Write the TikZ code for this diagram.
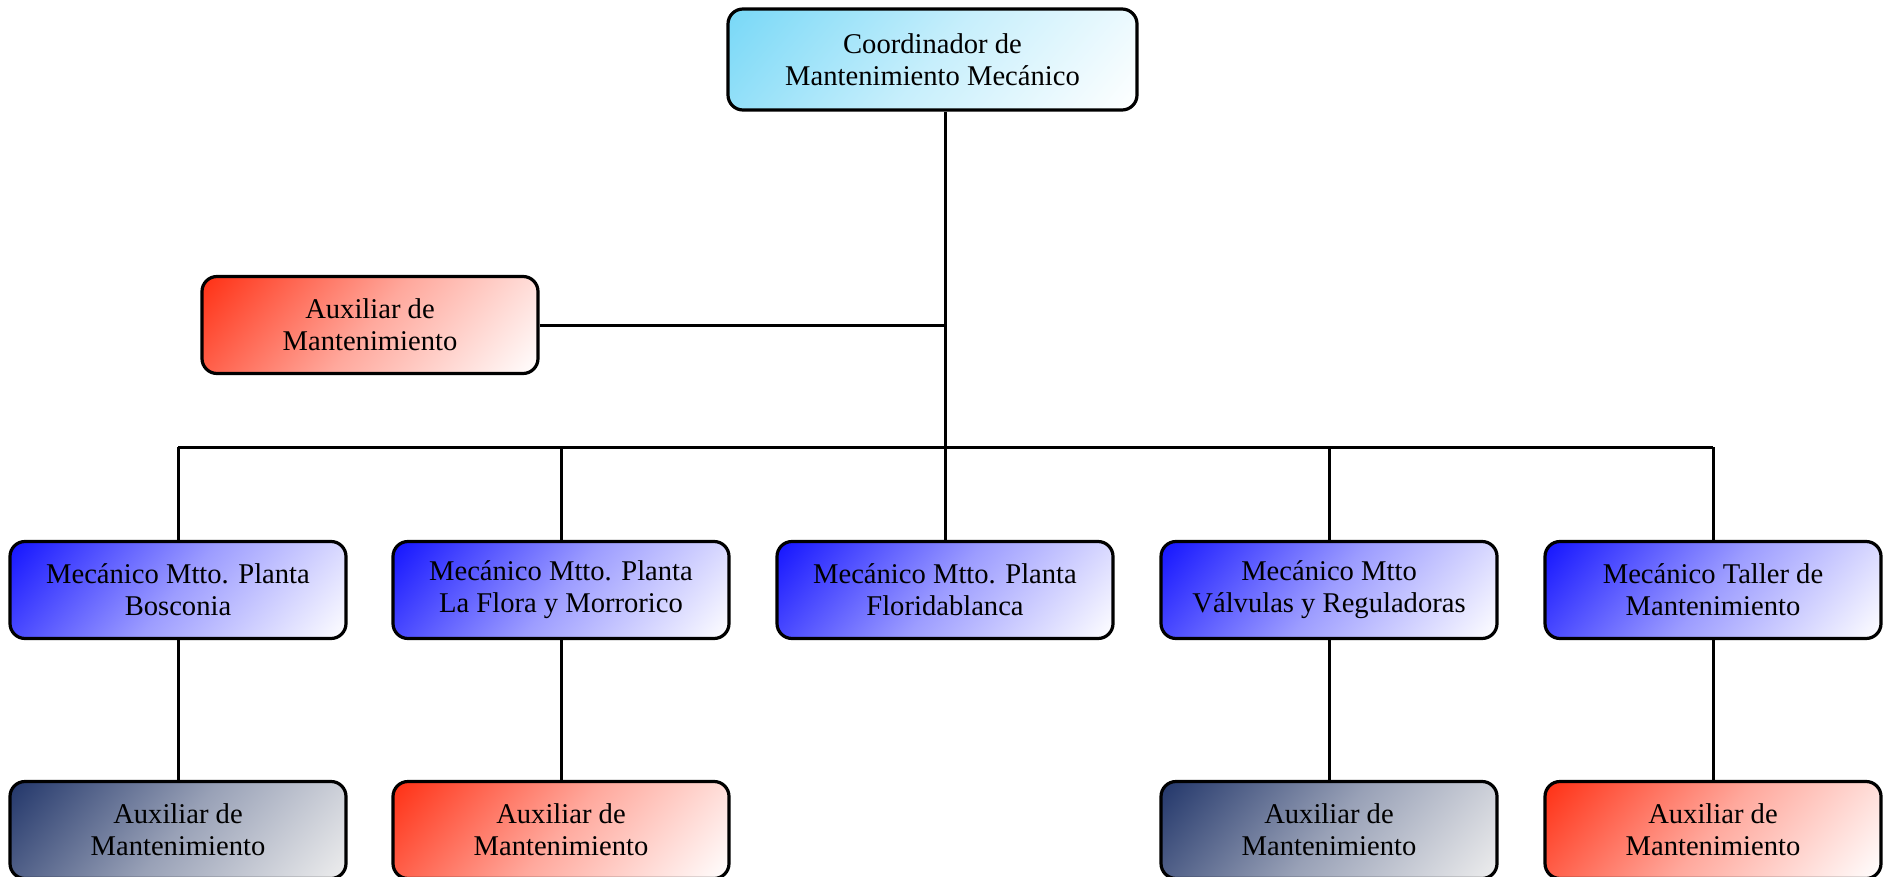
\documentclass[tikz,border=0pt]{standalone}
\usepackage{fontspec}
\setmainfont{Liberation Serif}
\definecolor{cyanTop}{HTML}{78D8F7}
\definecolor{blueTop}{HTML}{1414FF}
\definecolor{redTop}{HTML}{FF3014}
\definecolor{navyTop}{HTML}{22366A}
\definecolor{navyEnd}{HTML}{EEEEEE}
% linear shadings running from a light colour (bottom) to a strong one (top);
% the inner band 14.8bp..85.2bp spans the box once rotated by 50 degrees
\newcommand\boxshading[3]{%
  \pgfdeclareverticalshading{#1}{100bp}{color(0bp)=(#3); color(14.8bp)=(#3);
    color(50bp)=(#2!42!#3); color(85.2bp)=(#2); color(100bp)=(#2)}}
\boxshading{cyanGrad}{cyanTop}{white}
\boxshading{blueGrad}{blueTop}{white}
\boxshading{redGrad}{redTop}{white}
\boxshading{navyGrad}{navyTop}{navyEnd}
\begin{document}
\begin{tikzpicture}[x={(0.5pt,0)},y={(0,-0.5pt)},
  box/.style={draw=black, line width=1.6pt, rounded corners=7.5pt,
    minimum width=168pt, minimum height=48.5pt, inner sep=0pt,
    align=center, font=\fontsize{14.3}{16}\selectfont},
  cyanbox/.style={box, shade, shading=cyanGrad, shading angle=50},
  bluebox/.style={box, shade, shading=blueGrad, shading angle=50},
  redbox/.style={box, shade, shading=redGrad, shading angle=50},
  navybox/.style={box, shade, shading=navyGrad, shading angle=50},
  link/.style={draw=black, line width=1.5pt}]
\useasboundingbox (0,0) rectangle (1883,877);

% height of the horizontal bus feeding the mechanics' row
\coordinate (bus) at (0,447);

% boxes
\node[cyanbox, minimum width=204.5pt, minimum height=50.5pt] (coord) at (932.5,59.5)
  {Coordinador de\\Mantenimiento Mecánico};
\node[redbox] (aux) at (370,325) {Auxiliar de\\Mantenimiento};

\node[bluebox] (m1) at (178,590) {Mecánico Mtto. Planta\\Bosconia};
\node[bluebox] (m2) at (561,590) {Mecánico Mtto. Planta\\La Flora y Morrorico};
\node[bluebox] (m3) at (945,590) {Mecánico Mtto. Planta\\Floridablanca};
\node[bluebox] (m4) at (1329,590) {Mecánico Mtto\\Válvulas y Reguladoras};
\node[bluebox] (m5) at (1713,590) {Mecánico Taller de\\Mantenimiento};

\node[navybox] (a1) at (178,830) {Auxiliar de\\Mantenimiento};
\node[redbox] (a2) at (561,830) {Auxiliar de\\Mantenimiento};
\node[navybox] (a4) at (1329,830) {Auxiliar de\\Mantenimiento};
\node[redbox] (a5) at (1713,830) {Auxiliar de\\Mantenimiento};

% connectors
\draw[link] (coord.south -| m3.north) -- (m3.north);
\draw[link] (aux.east) -- (aux.east -| m3.north);
\draw[link] (bus -| m1.north) -- (bus -| m5.north);
\draw[link] (bus -| m1.north) -- (m1.north);
\draw[link] (bus -| m2.north) -- (m2.north);
\draw[link] (bus -| m4.north) -- (m4.north);
\draw[link] (bus -| m5.north) -- (m5.north);
\draw[link] (m1.south) -- (a1.north);
\draw[link] (m2.south) -- (a2.north);
\draw[link] (m4.south) -- (a4.north);
\draw[link] (m5.south) -- (a5.north);
\end{tikzpicture}
\end{document}
